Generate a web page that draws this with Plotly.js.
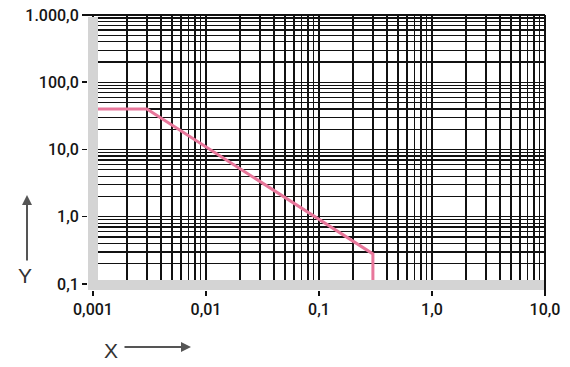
<!DOCTYPE html>
<html><head><meta charset="utf-8">
<script src="https://cdn.plot.ly/plotly-3.0.1.min.js"></script>
<style>body{margin:0;background:#fff}#c{width:570px;height:367px}</style>
</head><body><div id="c"></div>
<script>
// data
const lineX = [0.001, 0.003, 0.3, 0.3];
const lineY = [40, 40, 0.28, 0.1];
const xTickVals = [0.001, 0.01, 0.1, 1, 10];
const xTickText = ['0,001', '0,01', '0,1', '1,0', '10,0'];
const yTickVals = [0.1, 1, 10, 100, 1000];
const yTickText = ['0,1', '1,0', '10,0', '100,0', '1.000,0'];
const xDecades = [0.001, 0.01, 0.1, 1];
const yDecades = [0.1, 1, 10, 100];
const minorMult = [2, 3, 4, 5, 6, 7, 8, 9];

const xMinor = [], yMinor = [];
xDecades.forEach(d => minorMult.forEach(m => xMinor.push(d * m)));
yDecades.forEach(d => minorMult.forEach(m => yMinor.push(d * m)));

const L = 88, R = 545, T = 15, B = 290;
const W = R - L, H = B - T;
const px = v => (v - L) / W;
const py = v => (B - v) / H;

const font = {family: 'Roboto, Liberation Sans, Arial, sans-serif', size: 16, weight: 500, color: '#151515'};
const gridC = '#111';

const trace = {
  x: lineX, y: lineY, type: 'scatter', mode: 'lines',
  line: {color: '#e8779b', width: 3}, hoverinfo: 'skip'
};

const layout = {
  width: 570, height: 367,
  margin: {l: L, r: 570 - R, t: T, b: 367 - B},
  paper_bgcolor: '#fff', plot_bgcolor: '#fff',
  showlegend: false,
  xaxis: {
    type: 'log', range: [-3.044, 1.0], fixedrange: true,
    tickmode: 'array', tickvals: xTickVals, ticktext: xTickText,
    ticks: 'outside', ticklen: 5, tickwidth: 1.5, tickcolor: '#111',
    tickfont: font, showgrid: true, gridcolor: gridC, gridwidth: 1.3,
    showline: false, zeroline: false,
    minor: {tickmode: 'array', tickvals: xMinor, showgrid: true, gridcolor: gridC, gridwidth: 1.3, ticks: ''}
  },
  yaxis: {
    type: 'log', range: [-1.09, 3.0], fixedrange: true,
    tickmode: 'array', tickvals: yTickVals, ticktext: yTickText,
    ticks: 'outside', ticklen: 5, tickwidth: 1.5, tickcolor: '#111',
    tickfont: font, showgrid: true, gridcolor: gridC, gridwidth: 1.3,
    showline: false, zeroline: false,
    minor: {tickmode: 'array', tickvals: yMinor, showgrid: true, gridcolor: gridC, gridwidth: 1.3, ticks: ''}
  },
  shapes: [
    {type: 'rect', xref: 'paper', yref: 'paper', x0: 0, x1: px(98), y0: 0, y1: py(17), fillcolor: '#d4d4d4', line: {width: 0}, layer: 'above'},
    {type: 'rect', xref: 'paper', yref: 'paper', x0: 0, x1: 1, y0: 0, y1: py(280), fillcolor: '#d4d4d4', line: {width: 0}, layer: 'above'},
    {type: 'line', xref: 'paper', yref: 'paper', x0: px(86), x1: 1, y0: 1, y1: 1, line: {color: '#111', width: 2}, layer: 'above'},
    {type: 'line', xref: 'paper', yref: 'paper', x0: 1, x1: 1, y0: py(296), y1: 1, line: {color: '#111', width: 2}, layer: 'above'}
  ],
  annotations: [
    {xref: 'paper', yref: 'paper', x: px(27), y: py(195), text: '', showarrow: true, ax: 0, ay: 67,
     arrowhead: 2, arrowsize: 1, arrowwidth: 2, arrowcolor: '#555'},
    {xref: 'paper', yref: 'paper', x: px(191), y: py(347), text: '', showarrow: true, ax: -68, ay: 0,
     arrowhead: 2, arrowsize: 1, arrowwidth: 2, arrowcolor: '#555'},
    {xref: 'paper', yref: 'paper', x: px(25), y: py(275), xanchor: 'center', yanchor: 'middle', text: 'Y', showarrow: false,
     font: {family: 'Liberation Sans, Arial, sans-serif', size: 21, color: '#333'}},
    {xref: 'paper', yref: 'paper', x: px(111), y: py(350), xanchor: 'center', yanchor: 'middle', text: 'X', showarrow: false,
     font: {family: 'Liberation Sans, Arial, sans-serif', size: 21, color: '#333'}}
  ]
};

Plotly.newPlot('c', [trace], layout, {displayModeBar: false, staticPlot: true});
</script></body></html>
